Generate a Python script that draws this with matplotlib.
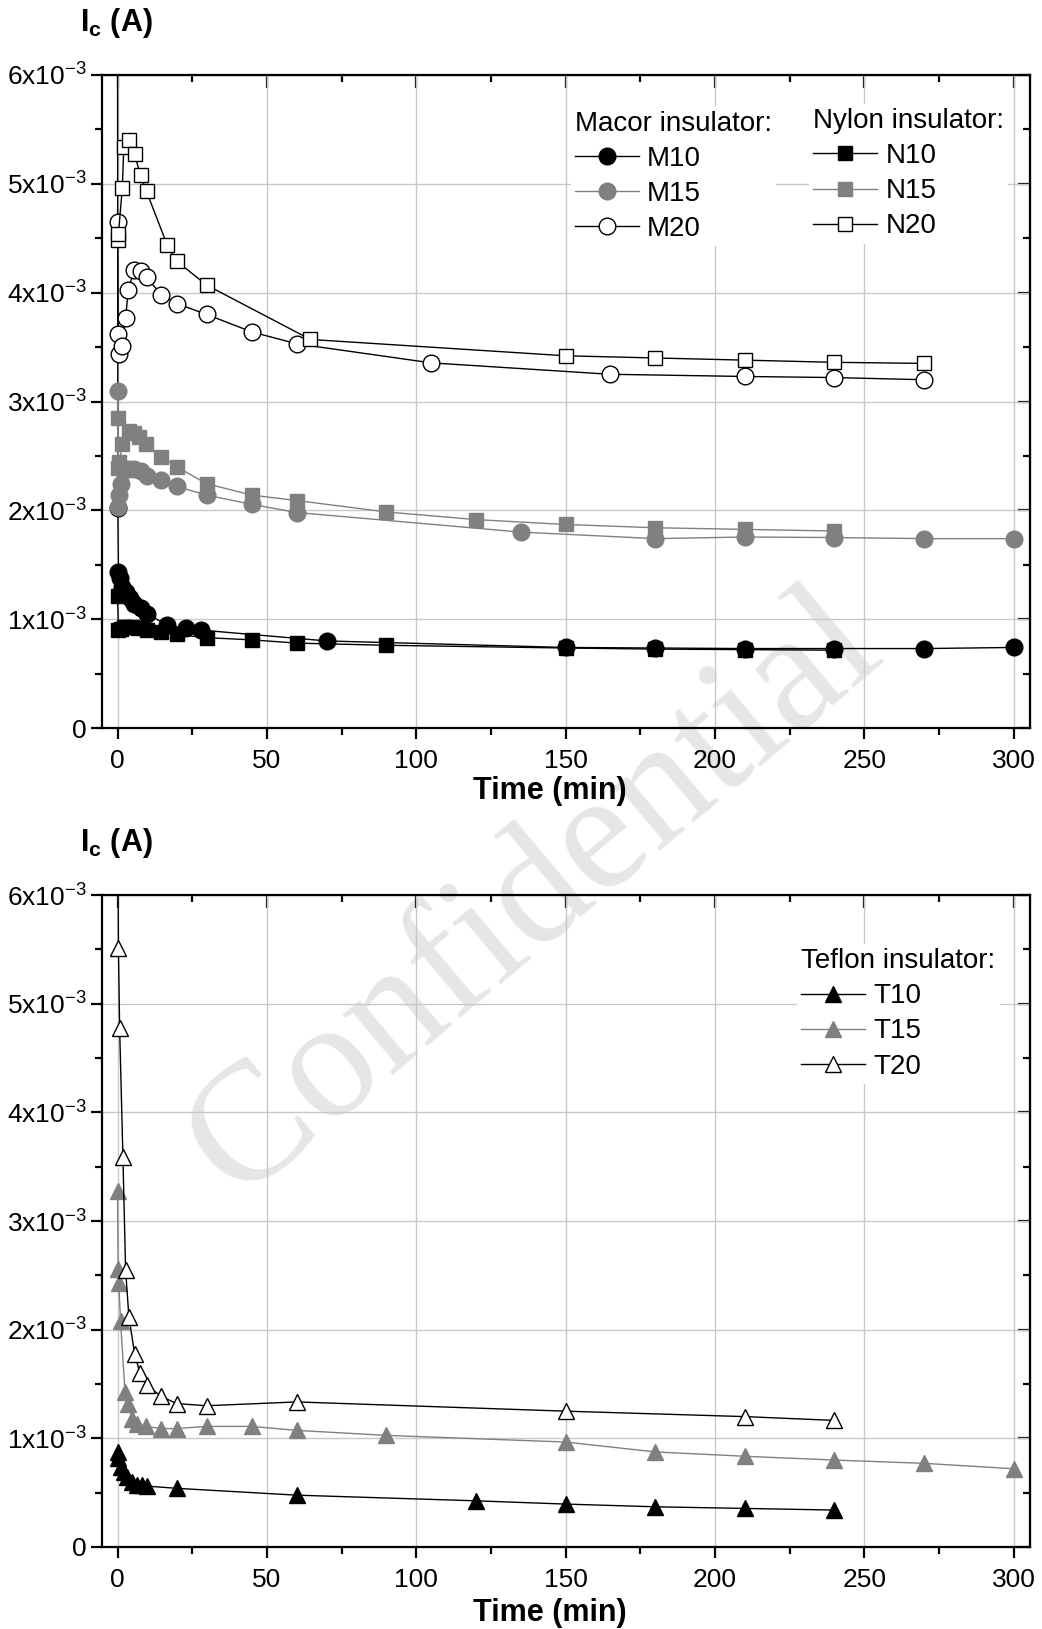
import matplotlib
matplotlib.use('Agg')
from matplotlib import pyplot as plt
from matplotlib.ticker import MultipleLocator, FuncFormatter

plt.rcParams['font.family'] = ['Liberation Sans', 'DejaVu Sans']
plt.rcParams['mathtext.fontset'] = 'custom'
plt.rcParams['mathtext.rm'] = 'Liberation Sans'
plt.rcParams['mathtext.it'] = 'Liberation Sans:italic'
plt.rcParams['mathtext.bf'] = 'Liberation Sans:bold'

# current in units of 1e-3 A, time in min
# Macor insulator
m10_t = [0, 0.1, 0.3, 0.8, 1.6, 2.7, 4.1, 5.5, 7.7, 9.9, 16.6, 22.8, 27.8, 70, 150, 180, 210, 240, 270, 300]
m10_i = [7.0, 2.02, 1.43, 1.38, 1.30, 1.25, 1.19, 1.14, 1.10, 1.05, 0.945, 0.915, 0.90, 0.80, 0.74, 0.735, 0.73, 0.73, 0.73, 0.74]
m15_t = [0, 0.2, 0.5, 1, 2.1, 3.5, 5.5, 7.7, 9.7, 14.7, 19.8, 29.8, 44.9, 60, 135, 180, 210, 240, 270, 300]
m15_i = [3.10, 2.03, 2.14, 2.245, 2.37, 2.38, 2.38, 2.36, 2.32, 2.275, 2.22, 2.14, 2.055, 1.98, 1.80, 1.74, 1.755, 1.75, 1.74, 1.74]
m20_t = [0, 0.25, 0.5, 1.5, 2.7, 3.6, 5.5, 7.7, 9.7, 14.7, 19.8, 29.8, 44.9, 60, 105, 165, 210, 240, 270]
m20_i = [4.65, 3.62, 3.44, 3.51, 3.77, 4.02, 4.21, 4.20, 4.14, 3.98, 3.90, 3.80, 3.64, 3.53, 3.355, 3.25, 3.23, 3.22, 3.20]

# Nylon insulator
n10_t = [0, 0.3, 1, 2, 3, 5, 7, 10, 14.4, 19.8, 29.8, 44.9, 60, 90, 150, 180, 210, 240]
n10_i = [1.21, 0.90, 0.91, 0.93, 0.93, 0.93, 0.92, 0.90, 0.88, 0.86, 0.83, 0.81, 0.78, 0.76, 0.735, 0.725, 0.72, 0.715]
n15_t = [0, 0.3, 0.6, 1.6, 3.8, 5.5, 7.3, 9.4, 14.7, 19.8, 29.8, 44.9, 60, 90, 120, 150, 180, 210, 240]
n15_i = [2.85, 2.39, 2.44, 2.61, 2.73, 2.71, 2.67, 2.61, 2.49, 2.40, 2.245, 2.14, 2.09, 1.985, 1.915, 1.87, 1.84, 1.825, 1.81]
n20_t = [0, 0.3, 1.6, 2.1, 3.8, 5.7, 7.7, 9.7, 16.6, 19.8, 29.8, 64.6, 150, 180, 210, 240, 270]
n20_i = [4.48, 4.54, 4.96, 5.34, 5.40, 5.27, 5.08, 4.93, 4.44, 4.29, 4.07, 3.57, 3.42, 3.40, 3.38, 3.36, 3.35]

# Teflon insulator
t10_t = [0, 0.3, 1, 2, 3.2, 4.9, 6.6, 8.3, 9.9, 19.8, 60, 120, 150, 180, 210, 240]
t10_i = [0.875, 0.82, 0.74, 0.69, 0.645, 0.60, 0.575, 0.57, 0.56, 0.54, 0.477, 0.425, 0.395, 0.37, 0.355, 0.34]
t15_t = [0, 0.2, 0.4, 1, 2.5, 3.6, 4.9, 6.6, 9.4, 14.7, 19.8, 29.8, 44.9, 60, 90, 150, 180, 210, 240, 270, 300]
t15_i = [3.28, 2.56, 2.43, 2.08, 1.43, 1.32, 1.18, 1.13, 1.11, 1.09, 1.09, 1.11, 1.11, 1.073, 1.027, 0.966, 0.875, 0.835, 0.80, 0.77, 0.72]
t20_t = [0, 0.3, 0.7, 1.8, 2.7, 3.8, 5.7, 7.5, 9.7, 14.7, 19.8, 29.8, 60, 150, 210, 240]
t20_i = [7.0, 5.51, 4.78, 3.59, 2.55, 2.12, 1.78, 1.60, 1.49, 1.385, 1.32, 1.30, 1.335, 1.25, 1.20, 1.165]

GREY = '#808080'
FS = 19
LFS = 20


def yfmt(v, pos):
    n = int(round(v * 1000))
    if n == 0:
        return '0'
    return r'$%d\mathrm{x}10^{\mathrm{-3}}$' % n


def style_axes(ax):
    ax.set_xlim(-5.2, 305.5)
    ax.set_ylim(0, 6e-3)
    ax.set_facecolor('none')
    ax.xaxis.set_major_locator(MultipleLocator(50))
    ax.xaxis.set_minor_locator(MultipleLocator(25))
    ax.yaxis.set_major_locator(MultipleLocator(1e-3))
    ax.yaxis.set_minor_locator(MultipleLocator(0.5e-3))
    ax.yaxis.set_major_formatter(FuncFormatter(yfmt))
    ax.grid(True, which='major', color='#c8c8c8', lw=1.0)
    ax.set_axisbelow(True)
    for s in ax.spines.values():
        s.set_linewidth(1.6)
    ax.tick_params(which='major', direction='out', length=8, width=1.6, labelsize=FS, pad=3)
    ax.tick_params(axis='x', which='major', pad=7)
    ax.tick_params(which='minor', direction='out', length=5, width=1.6)
    # inward ticks on top and right
    top = ax.secondary_xaxis('top')
    top.xaxis.set_major_locator(MultipleLocator(50))
    top.xaxis.set_minor_locator(MultipleLocator(25))
    top.tick_params(which='major', direction='in', length=9, width=1.6, labeltop=False)
    top.tick_params(which='minor', direction='in', length=5, width=1.6)
    right = ax.secondary_yaxis('right')
    right.yaxis.set_major_locator(MultipleLocator(1e-3))
    right.yaxis.set_minor_locator(MultipleLocator(0.5e-3))
    right.tick_params(which='major', direction='in', length=9, width=1.6, labelright=False)
    right.tick_params(which='minor', direction='in', length=5, width=1.6)
    ax.set_xlabel('Time (min)', fontsize=22, fontweight='bold', labelpad=0)


def series(ax, t, i, marker, face, line, ms):
    y = [v * 1e-3 for v in i]
    h, = ax.plot(t, y, color=line, lw=1.0, marker=marker, ms=ms,
                 mfc=face, mec='black' if face == 'white' else face, mew=1.0,
                 clip_on=True)
    return h


def legend(ax, handles, labels, title, x, y):
    leg = ax.legend(handles, labels, title=title, loc='upper left',
                    bbox_to_anchor=(x, y), fontsize=LFS, title_fontsize=LFS,
                    alignment='left', frameon=True, facecolor='white',
                    edgecolor='none', fancybox=False, framealpha=1,
                    borderpad=0.15, borderaxespad=0, handlelength=2.3,
                    handletextpad=0.3, labelspacing=0.33)
    ax.add_artist(leg)
    return leg


fig = plt.figure(figsize=(10.42, 16.29), dpi=100)
ax1 = fig.add_axes([102 / 1042, 1 - 728 / 1629, 928 / 1042, 653 / 1629])
ax2 = fig.add_axes([102 / 1042, 1 - 1547 / 1629, 928 / 1042, 652 / 1629])

fig.text(0.513, 0.45, 'Confidential', rotation=40, fontsize=122,
         family='Liberation Serif', color='#e6e6e6', ha='center', va='center',
         zorder=-1)

h_m10 = series(ax1, m10_t, m10_i, 'o', 'black', 'black', 12)
h_m15 = series(ax1, m15_t, m15_i, 'o', GREY, GREY, 12)
h_m20 = series(ax1, m20_t, m20_i, 'o', 'white', 'black', 12)
h_n10 = series(ax1, n10_t, n10_i, 's', 'black', 'black', 10)
h_n15 = series(ax1, n15_t, n15_i, 's', GREY, GREY, 10)
h_n20 = series(ax1, n20_t, n20_i, 's', 'white', 'black', 10)

h_t10 = series(ax2, t10_t, t10_i, '^', 'black', 'black', 12)
h_t15 = series(ax2, t15_t, t15_i, '^', GREY, GREY, 12)
h_t20 = series(ax2, t20_t, t20_i, '^', 'white', 'black', 12)

style_axes(ax1)
style_axes(ax2)
ax1.xaxis.set_label_coords((550 - 102) / 928, -0.073)
ax2.xaxis.set_label_coords((550 - 102) / 928, -0.078)

legend(ax1, [h_m10, h_m15, h_m20], ['M10', 'M15', 'M20'], 'Macor insulator:', 0.505, 0.952)
legend(ax1, [h_n10, h_n15, h_n20], ['N10', 'N15', 'N20'], 'Nylon insulator:', 0.762, 0.956)
legend(ax2, [h_t10, h_t15, h_t20], ['T10', 'T15', 'T20'], 'Teflon insulator:', 0.749, 0.925)

for ypix in (23, 843):
    fig.text(80 / 1042, 1 - ypix / 1629, r'$\mathbf{I_c}$ (A)', fontsize=22,
             fontweight='bold', ha='left', va='center')

fig.savefig('out.png', dpi=100)
